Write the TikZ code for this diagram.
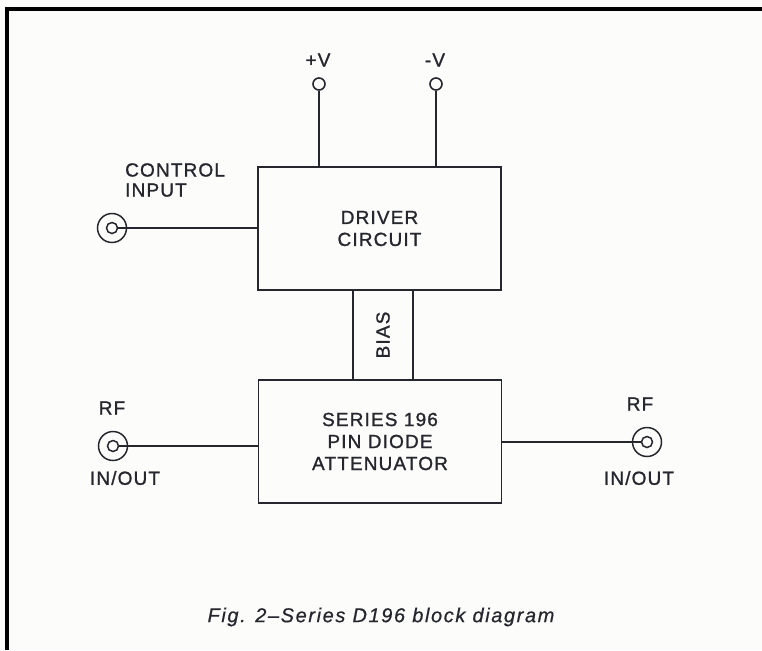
\documentclass[tikz,border=0pt]{standalone}
\usepackage{fontspec}
\newfontfamily\lblfont{Liberation Sans}[LetterSpace=6,FakeBold=1.2]
\newfontfamily\capfont{Liberation Sans}[LetterSpace=8,FakeBold=0.6]
\definecolor{ink}{HTML}{26262E}
\definecolor{paper}{HTML}{FCFDFB}
\begin{document}
\begin{tikzpicture}[x=1pt,y=-1pt,
  box/.style={draw=ink,line width=1.8pt,minimum width=243pt,minimum height=123pt,inner sep=0pt,
    font=\lblfont\fontsize{19}{22}\selectfont,text=ink,align=center},
  wire/.style={draw=ink,line width=1.4pt},
  term/.style={circle,draw=ink,line width=1.6pt,minimum size=12pt,inner sep=0pt},
  coaxo/.style={circle,draw=ink,line width=1.5pt,minimum size=29pt,inner sep=0pt},
  coaxi/.style={circle,draw=ink,line width=1.5pt,minimum size=11pt,inner sep=0pt},
  lbl/.style={font=\lblfont\fontsize{19}{20}\selectfont,text=ink,inner sep=0pt}]
\useasboundingbox (0,0) rectangle (762,650);
\fill[paper] (0,0) rectangle (762,650);
% border
\fill[black] (5,7) rectangle (762,11);
\fill[black] (5,7) rectangle (9,650);
% blocks
\node[box] (drv) at (379.5,228.5) {DRIVER\\CIRCUIT};
\node[box] (att) at (380,441.5) {SERIES 196\\PIN DIODE\\ATTENUATOR};
% bias channel
\node[minimum width=60pt,minimum height=90pt,inner sep=0pt] (bias) at (383,335) {};
\node[lbl,rotate=90] (biastxt) at (bias.center) {BIAS};
\draw[wire,line width=1.6pt] (bias.north west) -- (bias.south west);
\draw[wire,line width=1.6pt] (bias.north east) -- (bias.south east);
% supply terminals
\node[term] (vp) at (319,84) {};
\node[term] (vm) at (436,84) {};
\node[lbl] (vptxt) at (318,60) {+V};
\node[lbl] (vmtxt) at (435,60) {-V};
\draw[wire] (vp.south) -- (vp.south |- drv.north);
\draw[wire] (vm.south) -- (vm.south |- drv.north);
% control input
\node[coaxo] (ci) at (112,228) {};
\node[coaxi] (cii) at (112,228) {};
\node[lbl,anchor=west,align=left] (citxt) at (125,180) {CONTROL\\INPUT};
\draw[wire] (cii.east) -- (cii.east -| drv.west);
% RF left
\node[coaxo] (rfl) at (113,446) {};
\node[coaxi] (rfli) at (113,446) {};
\node[lbl] (rfltxt) at (112,408) {RF};
\node[lbl] (rflio) at (125,478) {IN/OUT};
\draw[wire] (rfli.east) -- (rfli.east -| att.west);
% RF right
\node[coaxo] (rfr) at (647,442) {};
\node[coaxi] (rfri) at (647,442) {};
\node[lbl] (rfrtxt) at (640,404) {RF};
\node[lbl] (rfrio) at (639,478) {IN/OUT};
\draw[wire] (rfri.west) -- (rfri.west -| att.east);
% caption
\node[font=\capfont\itshape\fontsize{20}{22}\selectfont,text=ink,inner sep=0pt] (cap) at (381,617) {Fig. 2–Series D196 block diagram};
\end{tikzpicture}
\end{document}
